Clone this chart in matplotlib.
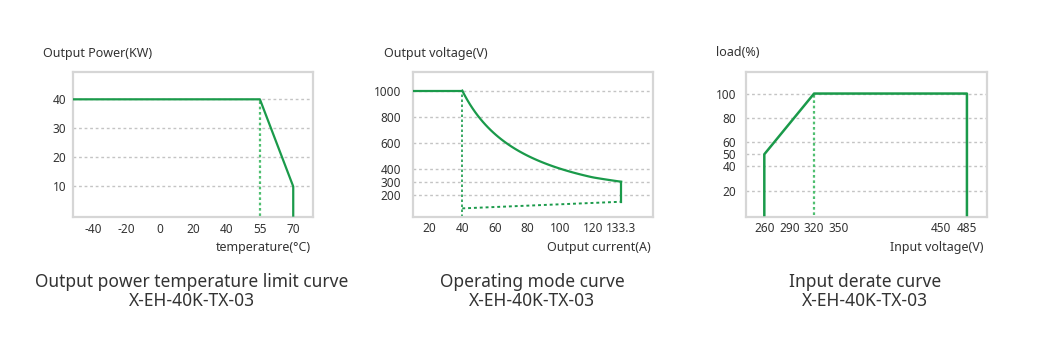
"""Derating curves for the X-EH-40K-TX-03 module."""

import numpy as np
import matplotlib
matplotlib.use("Agg")
import matplotlib.pyplot as plt

plt.rcParams["font.family"] = ["Noto Sans", "DejaVu Sans"]

GREEN = "#1a9a4a"
LIGHT_GREEN = "#4fbf70"
GRID = "#c4c4c4"
TEXT = "#333333"

# Panel 1: output power vs temperature
temp_ticks = [-40, -20, 0, 20, 40, 55, 70]
power_ticks = [10, 20, 30, 40]
temp_curve = [-53, 55, 70, 70]
power_curve = [40, 40, 10, 0]

# Panel 2: output voltage vs output current
current_ticks = [20, 40, 60, 80, 100, 120, 133.3]
volt_ticks = [200, 300, 400, 600, 800, 1000]
flat_current = [10, 40]
flat_volt = [1000, 1000]
curve_current = np.linspace(40, 133.3, 60)
curve_volt = 40000 / curve_current
low_current = [40, 133.3]
low_volt = [95, 146]

# Panel 3: load vs input voltage
vin_ticks = [260, 290, 320, 350, 450, 485]
load_ticks = [20, 40, 50, 60, 80, 100]
vin_curve = [260, 260, 320, 485, 485]
load_curve = [0, 50, 100, 100, 0]


def piecewise(values, positions):
    values = np.asarray(values, float)
    positions = np.asarray(positions, float)

    def fwd(x):
        return np.interp(x, values, positions)

    def inv(p):
        return np.interp(p, positions, values)
    return fwd, inv


def style(ax, ypad):
    for s in ax.spines.values():
        s.set_color("#d6d6d6")
        s.set_linewidth(1.6)
    ax.minorticks_off()
    ax.tick_params(length=0, labelsize=8.5, colors=TEXT)
    ax.tick_params(axis="x", pad=4)
    ax.tick_params(axis="y", pad=ypad)
    for lab in ax.get_xticklabels() + ax.get_yticklabels():
        lab.set_fontweight("semibold")


def hgrid(ax, ys, x0=None, x1=None):
    lo, hi = ax.get_xlim()
    for y in ys:
        ax.plot([x0 if x0 is not None else lo, x1 if x1 is not None else hi], [y, y],
                color=GRID, linestyle=(0, (2, 2)), linewidth=1, zorder=1)


fig = plt.figure(figsize=(10.45, 3.48), dpi=100)
W, H = 1045, 348


def add_axes(x0, x1, y0, y1):
    return fig.add_axes([x0 / W, 1 - y1 / H, (x1 - x0) / W, (y1 - y0) / H])


# ---- panel 1
ax1 = add_axes(73, 313, 72, 217)
f, i = piecewise([-60, -40, -20, 0, 20, 40, 55, 70, 85], [-1, 0, 1, 2, 3, 4, 5, 6, 7])
ax1.set_xscale("function", functions=(f, i))
ax1.set_xlim(-52.2, 78.9)
ax1.set_ylim(-0.5, 49.4)
hgrid(ax1, power_ticks)
ax1.plot([55, 55], [0, 40], color=LIGHT_GREEN, linestyle=(0, (1.2, 1.2)), linewidth=1.6, zorder=2)
ax1.plot(temp_curve, power_curve, color=GREEN, linewidth=1.6, zorder=3)
ax1.set_xticks(temp_ticks)
ax1.set_xticklabels([str(t) for t in temp_ticks])
ax1.set_yticks(power_ticks)
style(ax1, 5)

# ---- panel 2
ax2 = add_axes(413.3, 653.3, 71.7, 216.7)
f, i = piecewise([0, 120, 133.3, 160], [0, 120, 137.3, 164])
ax2.set_xscale("function", functions=(f, i))
ax2.set_xlim(10, 153)
ax2.set_ylim(31, 1146)
hgrid(ax2, volt_ticks)
ax2.plot([40, 40], [31, 1000], color=GREEN, linestyle=(0, (1.5, 1.5)), linewidth=1.2, zorder=2)
ax2.plot(low_current, low_volt, color=GREEN, linestyle=(0, (1.5, 1.5)), linewidth=1.4, zorder=2)
ax2.plot(flat_current, flat_volt, color=GREEN, linewidth=1.6, zorder=3)
ax2.plot(curve_current, curve_volt, color=GREEN, linewidth=1.6, zorder=3)
ax2.plot([133.3, 133.3], [300, 146], color=GREEN, linewidth=1.6, zorder=3)
ax2.set_xticks(current_ticks)
ax2.set_xticklabels(["20", "40", "60", "80", "100", "120", "133.3"])
ax2.set_yticks(volt_ticks)
style(ax2, 9)

# ---- panel 3
ax3 = add_axes(745.7, 986.7, 71.7, 216.7)
f, i = piecewise([230, 260, 290, 320, 350, 450, 485, 520],
                 [-24.9, 0, 25, 49.7, 74, 176.7, 202.4, 228])
ax3.set_xscale("function", functions=(f, i))
ax3.set_xlim(237.6, 512)
ax3.set_ylim(-1.4, 118)
hgrid(ax3, [20, 40, 60, 80, 100])
hgrid(ax3, [50], x1=260)
ax3.plot([320, 320], [0, 100], color=LIGHT_GREEN, linestyle=(0, (1.2, 1.2)), linewidth=1.6, zorder=2)
ax3.plot(vin_curve, load_curve, color=GREEN, linewidth=1.8, zorder=3)
ax3.set_xticks(vin_ticks)
ax3.set_xticklabels([str(v) for v in vin_ticks])
ax3.set_yticks(load_ticks)
style(ax3, 7)

# axis captions
cap = dict(fontsize=9, color=TEXT)
fig.text(43 / W, 1 - 53 / H, "Output Power(KW)", ha="left", va="center", **cap)
fig.text(384 / W, 1 - 53 / H, "Output voltage(V)", ha="left", va="center", **cap)
fig.text(716 / W, 1 - 53 / H, "load(%)", ha="left", va="center", **cap)
fig.text(311 / W, 1 - 247 / H, "temperature(°C)", ha="right", va="center", **cap)
fig.text(651 / W, 1 - 247 / H, "Output current(A)", ha="right", va="center", **cap)
fig.text(983 / W, 1 - 247 / H, "Input voltage(V)", ha="right", va="center", **cap)

# titles
titles = ["Output power temperature limit curve", "Operating mode curve", "Input derate curve"]
centers = [192, 532, 865]
for t, cx in zip(titles, centers):
    fig.text(cx / W, 1 - 282 / H, t, ha="center", va="center", fontsize=12.5, color=TEXT)
    fig.text(cx / W, 1 - 301 / H, "X-EH-40K-TX-03", ha="center", va="center", fontsize=12.5, color=TEXT)

fig.savefig("out.png", dpi=100)
